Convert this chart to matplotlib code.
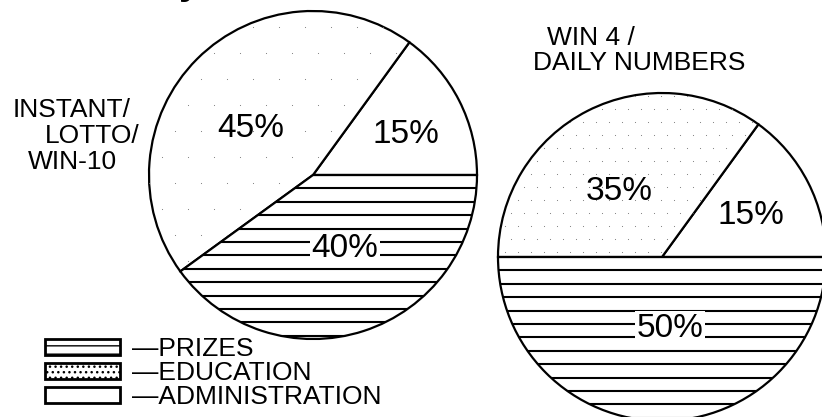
import matplotlib.pyplot as plt
from matplotlib.patches import Patch
import numpy as np

plt.rcParams["font.family"] = ["Liberation Sans", "DejaVu Sans"]

H = 417  # image height, used to flip image y into data y

# slice order: administration, education, prizes (counter-clockwise from 0 deg)
categories = ["ADMINISTRATION", "EDUCATION", "PRIZES"]
instant_vals = [15, 45, 40]
daily_vals = [15, 35, 50]
instant_labels = ["15%", "45%", "40%"]
daily_labels = ["15%", "35%", "50%"]


def draw_pie(ax, vals, center, radius, dot_step):
    wedges, _ = ax.pie(vals, center=center, radius=radius, startangle=0,
                       counterclock=True, colors=["white"] * 3,
                       wedgeprops=dict(edgecolor="black", linewidth=1.6))
    cx, cy = center
    # horizontal rules for prizes
    ys = cy - np.arange(0, radius + 14, 13.4)
    lc = ax.hlines(ys, cx - radius, cx + radius, color="black", lw=1.5, zorder=3)
    lc.set_clip_path(wedges[2])
    # sparse stipple for education
    gx, gy = np.meshgrid(np.arange(cx - radius, cx + radius, dot_step),
                         np.arange(cy - radius, cy + radius, dot_step))
    gx = gx + (np.arange(gx.shape[0])[:, None] % 2) * dot_step / 2
    sc = ax.scatter(gx.ravel(), gy.ravel(), s=0.6, color="#777777", lw=0, zorder=3)
    sc.set_clip_path(wedges[1])
    return wedges


fig = plt.figure(figsize=(8.22, 4.17), dpi=100)
ax = fig.add_axes([0, 0, 1, 1])

draw_pie(ax, instant_vals, (313, H - 175), 164, 26)
draw_pie(ax, daily_vals, (662, H - 257), 164, 13)

ax.set_xlim(0, 822)
ax.set_ylim(0, H)
ax.set_aspect("equal")
ax.axis("off")

pct = dict(fontsize=24, ha="center", va="baseline", zorder=5)
box = dict(facecolor="white", edgecolor="none", pad=1.5)
ax.text(406, H - 143, instant_labels[0], **pct)
ax.text(251, H - 137, instant_labels[1], **pct)
ax.text(345, H - 257, instant_labels[2], bbox=box, **pct)
ax.text(751, H - 224, daily_labels[0], **pct)
ax.text(619, H - 200, daily_labels[1], **pct)
ax.text(670, H - 337, daily_labels[2], bbox=box, **pct)

lab = dict(fontsize=19, ha="left", va="baseline")
ax.text(13, H - 117, "INSTANT/", **lab)
ax.text(45, H - 143, "LOTTO/", **lab)
ax.text(28, H - 169, "WIN-10", **lab)
ax.text(547, H - 45, "WIN 4 /", **lab)
ax.text(533, H - 70, "DAILY NUMBERS", **lab)

# clipped title fragment at top edge
ax.text(179, H + 6, "y", fontsize=28, fontweight="bold", ha="left", va="baseline")

handles = [
    Patch(facecolor="white", edgecolor="black", hatch="--", lw=2),
    Patch(facecolor="white", edgecolor="#999999", hatch="...", lw=2),
    Patch(facecolor="white", edgecolor="black", lw=2),
]
leg_labels = ["\u2014PRIZES", "\u2014EDUCATION", "\u2014ADMINISTRATION"]
leg = ax.legend(handles, leg_labels, loc="lower left", bbox_to_anchor=(45 / 822, 8 / H),
                frameon=False, fontsize=19, handlelength=2.85, handleheight=0.57,
                handletextpad=0.45, labelspacing=0.0, borderpad=0, borderaxespad=0)
leg.legend_handles[1].set_edgecolor("black")

fig.savefig("out.png", dpi=100)
